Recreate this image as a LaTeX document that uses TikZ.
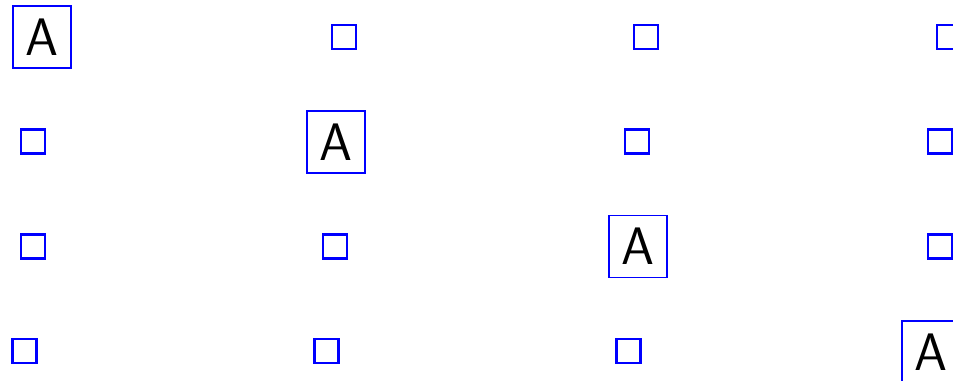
\documentclass[tikz,border=0pt]{standalone}
\usepackage{tikz}
\usetikzlibrary{positioning}
\usepackage{xcolor}
\definecolor{gridblue}{RGB}{0,0,255}
\tikzset{
    cell/.style={
        draw=gridblue,line width=2pt,minimum size=0.72cm,inner sep=0pt
    },
    letter/.style={
        draw=gridblue,line width=1.6pt,minimum width=1.74cm,minimum height=1.86cm,
        inner sep=0pt,font=\sffamily\fontsize{45}{50}\selectfont
    }
}
\begin{document}
\begin{tikzpicture}[x=0.03cm,y=-0.03cm]

\useasboundingbox (0,0) rectangle (953,380);

% row 1
\node[letter](a11) at (42,37) {A};
\node[cell](a12) at (344,37) {};
\node[cell](a13) at (646,37) {};
\node[cell](a14) at (949,37) {};

% row 2
\node[cell](a21) at (33,141.5) {};
\node[letter](a22) at (335.6,142) {A};
\node[cell](a23) at (637,141.5) {};
\node[cell](a24) at (940,141.5) {};

% row 3
\node[cell](a31) at (33,246.5) {};
\node[cell](a32) at (335,246.5) {};
\node[letter](a33) at (638,246.5) {A};
\node[cell](a34) at (940,246.5) {};

% row 4
\node[cell](a41) at (24.5,351) {};
\node[cell](a42) at (326.5,351) {};
\node[cell](a43) at (628.5,351) {};
\node[letter](a44) at (931.3,352) {A};

\end{tikzpicture}
\end{document}
